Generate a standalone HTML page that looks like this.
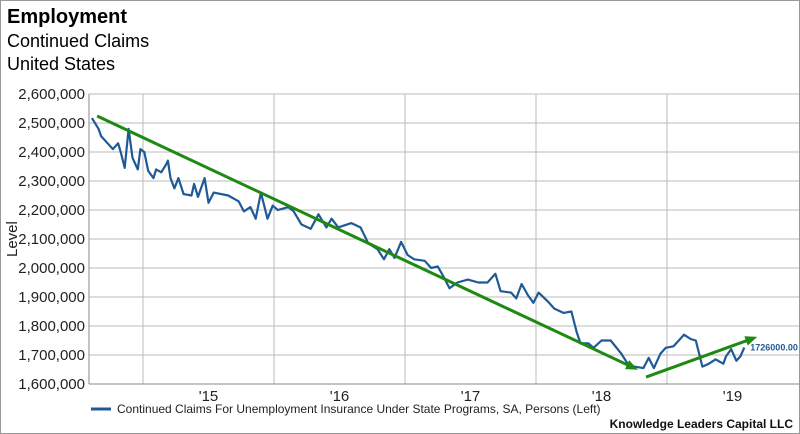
<!DOCTYPE html>
<html><head><meta charset="utf-8"><style>
body{margin:0;background:#fff;font-family:"Liberation Sans",sans-serif}
#wrap{position:relative;width:800px;height:434px;overflow:hidden;border:1px solid #999;box-sizing:border-box}
</style></head><body>
<div id="wrap">
<svg id="c" width="800" height="434"></svg>
</div>
<script>
const dates=[2014.61,2014.66,2014.68,2014.73,2014.77,2014.81,2014.83,2014.86,2014.89,2014.92,2014.96,2014.98,2015.01,2015.04,2015.08,2015.10,2015.14,2015.18,2015.19,2015.21,2015.24,2015.27,2015.31,2015.37,2015.39,2015.42,2015.47,2015.50,2015.54,2015.65,2015.73,2015.77,2015.82,2015.86,2015.90,2015.95,2015.99,2016.03,2016.11,2016.15,2016.21,2016.28,2016.34,2016.40,2016.44,2016.49,2016.59,2016.66,2016.72,2016.79,2016.84,2016.88,2016.92,2016.97,2017.02,2017.07,2017.15,2017.20,2017.25,2017.30,2017.34,2017.40,2017.48,2017.56,2017.63,2017.69,2017.73,2017.81,2017.85,2017.89,2017.94,2017.98,2018.02,2018.09,2018.14,2018.21,2018.27,2018.31,2018.34,2018.40,2018.44,2018.50,2018.57,2018.65,2018.70,2018.75,2018.82,2018.86,2018.90,2018.95,2018.99,2019.05,2019.09,2019.13,2019.18,2019.22,2019.27,2019.32,2019.37,2019.43,2019.45,2019.49,2019.53,2019.56,2019.59];
const claims=[2517,2480,2455,2430,2410,2430,2400,2345,2480,2380,2340,2410,2400,2335,2310,2340,2330,2360,2370,2310,2275,2310,2255,2250,2290,2245,2310,2225,2260,2250,2230,2195,2210,2170,2260,2170,2215,2200,2210,2195,2150,2135,2185,2140,2170,2140,2155,2140,2085,2065,2030,2065,2035,2090,2045,2030,2025,2000,2005,1965,1930,1950,1960,1950,1950,1980,1920,1915,1895,1945,1905,1880,1915,1885,1860,1845,1850,1780,1740,1740,1725,1750,1750,1705,1670,1660,1655,1690,1655,1705,1725,1730,1750,1770,1755,1750,1660,1670,1685,1670,1695,1720,1680,1695,1726].map(v=>v*1000);
const yTicks=[1600000,1700000,1800000,1900000,2000000,2100000,2200000,2300000,2400000,2500000,2600000];
const xYears=[2015,2016,2017,2018,2019];
const xLabels=["'15","'16","'17","'18","'19"];
const trend1=[[2014.65,2524000],[2018.75,1655000]];
const trend2=[[2018.84,1624000],[2019.66,1758000]];
const lastLabel="1726000.00";

const L=88,R=800,T=93,B=383;
const X=t=>142+(t-2015)*131;
const Y=v=>T+(2600000-v)/1000000*(B-T);
const s=document.getElementById('c');
const NS='http://www.w3.org/2000/svg';
function mk(tag,at,txt){const e=document.createElementNS(NS,tag);for(const k in at)e.setAttribute(k,at[k]);if(txt!=null)e.textContent=txt;s.appendChild(e);return e;}
let e;
e=mk('text',{x:6,y:22,'font-size':20,'font-weight':'bold',fill:'#000'},'Employment');


e=mk('text',{x:6,y:46,'font-size':18,fill:'#000'},'Continued Claims');


e=mk('text',{x:6,y:69,'font-size':18,fill:'#000'},'United States');


yTicks.forEach(v=>{
 e=mk('line',{x1:L,x2:R,y1:Y(v),y2:Y(v),stroke:'#bbb','stroke-width':1});
 
 
 e=mk('text',{x:84,y:Y(v)+5,'font-size':15,'text-anchor':'end',fill:'#222'},v.toLocaleString('en-US'));
 
 
});
xYears.forEach((y,i)=>{
 e=mk('line',{x1:X(y),x2:X(y),y1:T,y2:B,stroke:'#bbb','stroke-width':1});
 
 
 e=mk('text',{x:X(y+0.5),y:B+17,'font-size':15,'text-anchor':'middle',fill:'#222'},xLabels[i]);
 
 
});
e=mk('line',{x1:L,x2:L,y1:T,y2:B,stroke:'#888'});


e=mk('line',{x1:L,x2:R,y1:B,y2:B,stroke:'#888'});


e=mk('text',{x:0,y:0,'font-size':15,fill:'#222',transform:'translate(16,256) rotate(-90)'},'Level');


e=mk('defs',{});
e.innerHTML='<marker id="ah" markerWidth="12" markerHeight="10" refX="8" refY="5" orient="auto" markerUnits="userSpaceOnUse"><path d="M0,0 L12,5 L0,10 z" fill="#1f8a12"/></marker>';
const d=dates.map((t,i)=>(i?'L':'M')+X(t).toFixed(1)+','+Y(claims[i]).toFixed(1)).join(' ');
e=mk('path',{d:d,fill:'none',stroke:'#1f5a96','stroke-width':2.2,'stroke-linejoin':'round'});


[trend1,trend2].forEach((tr,i)=>{
 e=mk('line',{x1:X(tr[0][0]),y1:Y(tr[0][1]),x2:X(tr[1][0]),y2:Y(tr[1][1]),stroke:'#1f8a12','stroke-width':3,'marker-end':'url(#ah)'});
 
 
});
const li=claims.length-1;
e=mk('text',{x:X(dates[li])+6,y:Y(claims[li])+3,'font-size':9,'font-weight':'bold',fill:'#1f5a96'},lastLabel);


e=mk('line',{x1:90,x2:110,y1:408,y2:408,stroke:'#1f5a96','stroke-width':3});


e=mk('text',{x:116,y:412,'font-size':12,fill:'#222'},'Continued Claims For Unemployment Insurance Under State Programs, SA, Persons (Left)');


e=mk('text',{x:792,y:427,'font-size':12,'font-weight':'bold','text-anchor':'end',fill:'#111'},'Knowledge Leaders Capital LLC');


</script>
</body></html>
